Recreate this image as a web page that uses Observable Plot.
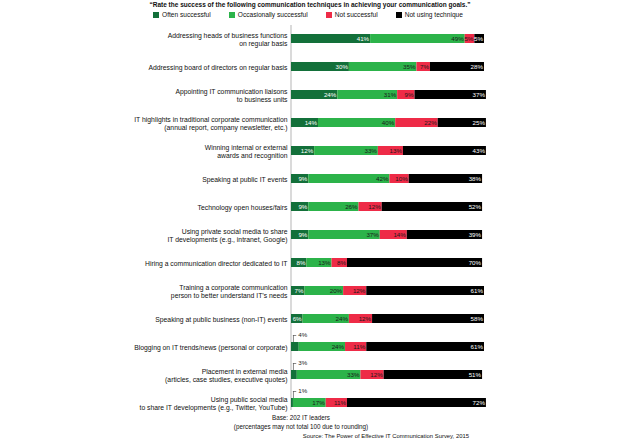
<!DOCTYPE html>
<html>
<head>
<meta charset="utf-8">
<script src="https://cdn.jsdelivr.net/npm/d3@7"></script>
<script src="https://cdn.jsdelivr.net/npm/@observablehq/plot@0.6"></script>
<style>
  body { margin: 0; width: 620px; height: 443px; position: relative; background: #fff;
         font-family: "Liberation Sans Narrow", "Liberation Sans", Arial, sans-serif; color: #111; }
  #title { position: absolute; top: 0; left: 0; width: 620px; text-align: center; font-weight: bold;
           font-size: 6.5px; line-height: 9px; }
  #legend { position: absolute; top: 10px; left: 153px; display: flex; gap: 18px; font-size: 6.6px; line-height: 9px; }
  #legend span.sw { display: inline-block; width: 6px; height: 6px; margin-right: 3px; vertical-align: -0.5px; }
  #chart { position: absolute; top: 22px; left: 0; }
  .foot { position: absolute; font-size: 6.3px; line-height: 9px; }
</style>
</head>
<body>
<div id="title"></div>
<div id="legend"></div>
<div id="chart"></div>
<div class="foot" id="base" style="top:413px;left:0;width:602px;text-align:center;"></div>
<div class="foot" id="note" style="top:422px;left:0;width:602px;text-align:center;"></div>
<div class="foot" id="source" style="top:432px;left:0;width:469px;text-align:right;font-size:5.9px;"></div>
<script>
const title = "“Rate the success of the following communication techniques in achieving your communication goals.”";
const categories = ["Often successful", "Occasionally successful", "Not successful", "Not using technique"];
const colors = ["#13703a", "#2cb34a", "#ee2b47", "#000000"];
const techniques = [
  "Addressing heads of business functions\non regular basis",
  "Addressing board of directors on regular basis",
  "Appointing IT communication liaisons\nto business units",
  "IT highlights in traditional corporate communication\n(annual report, company newsletter, etc.)",
  "Winning internal or external\nawards and recognition",
  "Speaking at public IT events",
  "Technology open houses/fairs",
  "Using private social media to share\nIT developments (e.g., intranet, Google)",
  "Hiring a communication director dedicated to IT",
  "Training a corporate communication\nperson to better understand IT’s needs",
  "Speaking at public business (non-IT) events",
  "Blogging on IT trends/news (personal or corporate)",
  "Placement in external media\n(articles, case studies, executive quotes)",
  "Using public social media\nto share IT developments (e.g., Twitter, YouTube)"
];
const often         = [41, 30, 24, 14, 12,  9,  9,  9,  8,  7,  6,  4,  3,  1];
const occasionally  = [49, 35, 31, 40, 33, 42, 26, 37, 13, 20, 24, 24, 33, 17];
const notSuccessful = [ 5,  7,  9, 22, 13, 10, 12, 14,  8, 12, 12, 11, 12, 11];
const notUsing      = [ 5, 28, 37, 25, 43, 38, 52, 39, 70, 61, 58, 61, 51, 72];
const baseText = "Base: 202 IT leaders";
const noteText = "(percentages may not total 100 due to rounding)";
const sourceText = "Source: The Power of Effective IT Communication Survey, 2015";

document.getElementById("title").textContent = title;
document.getElementById("base").textContent = baseText;
document.getElementById("note").textContent = noteText;
document.getElementById("source").textContent = sourceText;
const legend = document.getElementById("legend");
categories.forEach((c, i) => {
  const item = document.createElement("div");
  item.innerHTML = `<span class="sw" style="background:${colors[i]}"></span>${c}`;
  legend.appendChild(item);
});

const series = [often, occasionally, notSuccessful, notUsing];
const rows = techniques.flatMap((t, i) => categories.map((c, j) => ({technique: t, category: c, value: series[j][i]})));
const small = rows.filter(d => d.category === categories[0] && d.value < 5);
const darkCats = new Set([categories[0], categories[3]]);
const FONT = "'Liberation Sans Narrow', 'Liberation Sans', Arial, sans-serif";

const chart = Plot.plot({
  width: 620,
  height: 400,
  marginLeft: 291,
  marginRight: 136,
  marginTop: 3,
  marginBottom: 12,
  style: {fontFamily: FONT, background: "transparent"},
  x: {domain: [0, 100], axis: null},
  y: {domain: techniques, range: [4.1, 391.9], paddingInner: 0.68, paddingOuter: 0.2, axis: null},
  color: {domain: categories, range: colors},
  marks: [
    Plot.ruleX([0], {stroke: "#b5b5b5", strokeWidth: 1, dx: -0.5}),
    Plot.barX(rows, Plot.stackX({x: "value", y: "technique", fill: "category", order: categories})),
    Plot.text(rows, Plot.stackX2({x: "value", y: "technique", z: "category", order: categories,
      text: d => (d.value >= 5 && darkCats.has(d.category)) ? d.value + "%" : "",
      textAnchor: "end", dx: -1.5, fill: "white", fontSize: 6.2})),
    Plot.text(rows, Plot.stackX2({x: "value", y: "technique", z: "category", order: categories,
      text: d => (d.value >= 5 && !darkCats.has(d.category)) ? d.value + "%" : "",
      textAnchor: "end", dx: -1.5, fill: "#1a1a1a", fontSize: 6.2})),
    Plot.tickX(small, {x: () => 1, y: "technique", insetTop: -7, insetBottom: 9, stroke: "#555", strokeWidth: 0.7}),
    Plot.ruleY(small, {y: "technique", x1: () => 1, x2: () => 2.7, dy: -11.5, stroke: "#555", strokeWidth: 0.7}),
    Plot.text(small, {x: () => 2.7, y: "technique", text: d => d.value + "%", dx: 1.5, dy: -11.5,
      textAnchor: "start", fill: "#222", fontSize: 6.2}),
    Plot.text(techniques, {x: () => 0, y: d => d, text: d => d, textAnchor: "end", dx: -4,
      lineHeight: 1.18, fill: "#111", fontSize: 6.8})
  ]
});
document.getElementById("chart").appendChild(chart);
</script>
</body>
</html>
